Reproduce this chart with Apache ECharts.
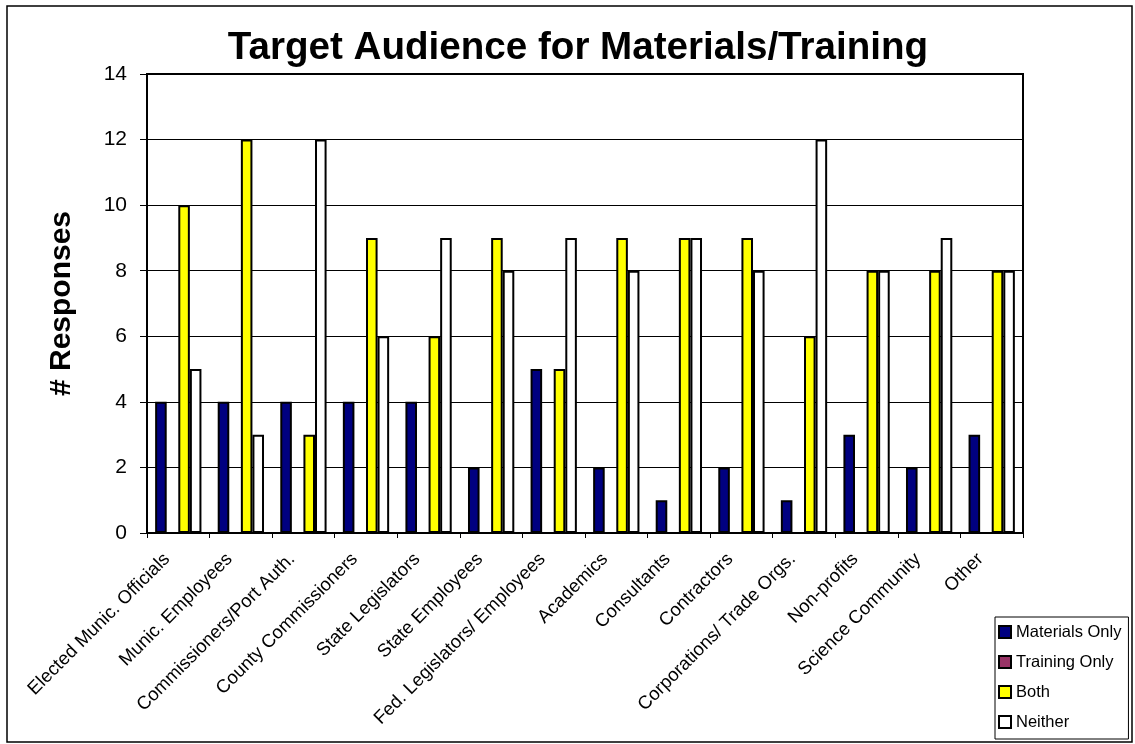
<!DOCTYPE html>
<html>
<head>
<meta charset="utf-8">
<script src="https://cdn.jsdelivr.net/npm/echarts@6/dist/echarts.min.js"></script>
<style>html,body{margin:0;padding:0;background:#fff}#c{width:1135px;height:744px}</style>
</head>
<body>
<div id="c"></div>
<script>
var categories = ["Elected Munic. Officials","Munic. Employees","Commissioners/Port Auth.","County Commissioners","State Legislators","State Employees","Fed. Legislators/ Employees","Academics","Consultants","Contractors","Corporations/ Trade Orgs.","Non-profits","Science Community","Other"];
var materialsOnly = [4,4,4,4,4,2,5,2,1,2,1,3,2,3];
var trainingOnly  = [0,0,0,0,0,0,0,0,0,0,0,0,0,0];
var both          = [10,12,3,9,6,9,5,9,9,9,6,8,8,8];
var neither       = [5,3,12,6,9,8,9,8,9,8,12,8,9,8];
var seriesNames = ["Materials Only","Training Only","Both","Neither"];
var seriesColors = ["#000080","#993366","#FFFF00","#FFFFFF"];
var yTicks = [0,2,4,6,8,10,12,14];

var chart = echarts.init(document.getElementById('c'), null, {renderer:'canvas'});
var font = "Liberation Sans, Arial, sans-serif";
var dataSets = [materialsOnly, trainingOnly, both, neither];
var series = dataSets.map(function(d,i){
  return {
    name: seriesNames[i], type:'bar', data:d,
    barGap:'0%', barCategoryGap:'26%',
    itemStyle:{color:seriesColors[i], borderColor:'#000', borderWidth:2},
    emphasis:{disabled:true}, animation:false
  };
});
chart.setOption({
  animation:false,
  textStyle:{fontFamily:font},
  title:{text:"Target Audience for Materials/Training", left:573, textAlign:'center', top:24,
    textStyle:{fontFamily:font, fontSize:38.6, fontWeight:'bold', color:'#000'}},
  grid:{left:147, top:74, width:876, height:459, show:true, borderColor:'#000', borderWidth:2, backgroundColor:'transparent'},
  legend:{orient:'vertical', left:995, top:617, itemWidth:12, itemHeight:12, itemGap:12,
    padding:[6,7,8,3], borderColor:'#000', borderWidth:1, backgroundColor:'#fff',
    textStyle:{fontFamily:font, fontSize:16.5, lineHeight:18, color:'#000'}, icon:'rect',
    itemStyle:{borderColor:'#000', borderWidth:2},
    data:seriesNames},
  xAxis:{type:'category', data:categories,
    axisLine:{lineStyle:{color:'#000', width:2}},
    axisTick:{show:true, length:5, lineStyle:{color:'#000'}},
    axisLabel:{rotate:45, interval:0, fontFamily:font, fontSize:18.5, color:'#000', margin:12, padding:[0,16,0,0]}},
  yAxis:{type:'value', min:yTicks[0], max:yTicks[yTicks.length-1], interval:2,
    name:"# Responses", nameLocation:'middle', nameGap:70, nameRotate:90,
    nameTextStyle:{fontFamily:font, fontSize:30, fontWeight:'bold', color:'#000'},
    axisLine:{show:true, lineStyle:{color:'#000', width:2}},
    axisTick:{show:true, length:7, lineStyle:{color:'#000'}},
    axisLabel:{fontFamily:font, fontSize:21, color:'#000', margin:20},
    splitLine:{show:true, lineStyle:{color:'#000', width:1}}},
  series:series,
  graphic:[{type:'rect', shape:{x:7, y:6, width:1125, height:736}, style:{fill:null, stroke:'#000', lineWidth:1.5}, silent:true, z:-1}]
});
</script>
</body>
</html>
